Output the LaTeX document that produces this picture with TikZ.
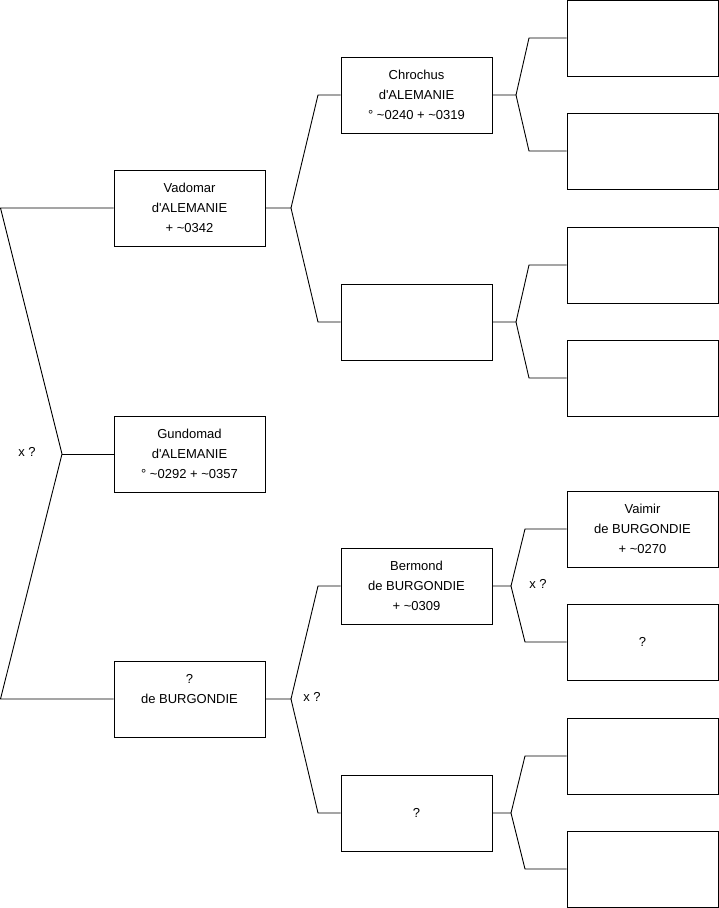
\documentclass[tikz,border=0pt]{standalone}
\usepackage{fontspec}
\setmainfont{Liberation Sans}
\newcommand{\ptext}[1]{\raisebox{1pt}{\renewcommand{\arraystretch}{1}\begin{tabular}{@{}c@{}}#1\end{tabular}}}
\newcommand{\apos}{\textquotesingle}
\begin{document}
\begin{tikzpicture}[x=1pt,y=-1pt,
  person/.style={draw=black, line width=0.9pt, fill=white, minimum width=151pt, minimum height=76pt,
    inner sep=0pt, font=\fontsize{13}{20}\selectfont},
  link/.style={draw=black, line width=0.9pt},
  marriage/.style={font=\fontsize{13}{20}\selectfont, inner sep=0pt}]
\useasboundingbox (0,0) rectangle (719,908);
% column 1
\node[person] (vad) at (189.5,208) {\ptext{Vadomar\\d\apos ALEMANIE\\+ \textasciitilde0342}};
\node[person] (gun) at (189.5,454) {\ptext{Gundomad\\d\apos ALEMANIE\\° \textasciitilde0292 + \textasciitilde0357}};
\node[person] (bur) at (189.5,699) {\ptext{?\\de BURGONDIE\\\mbox{}}};
% column 2
\node[person] (chr) at (416.5,95) {\ptext{Chrochus\\d\apos ALEMANIE\\° \textasciitilde0240 + \textasciitilde0319}};
\node[person] (e2) at (416.5,322) {};
\node[person] (ber) at (416.5,586) {\ptext{Bermond\\de BURGONDIE\\+ \textasciitilde0309}};
\node[person] (q2) at (416.5,813) {\ptext{?}};
% column 3
\node[person] (a1) at (642.5,38) {};
\node[person] (a2) at (642.5,151) {};
\node[person] (a3) at (642.5,265) {};
\node[person] (a4) at (642.5,378) {};
\node[person] (vai) at (642.5,529) {\ptext{Vaimir\\de BURGONDIE\\+ \textasciitilde0270}};
\node[person] (q3) at (642.5,642) {\ptext{?}};
\node[person] (a7) at (642.5,756) {};
\node[person] (a8) at (642.5,869) {};
% fork coordinates
\coordinate (r1) at (0.5,208);
\coordinate (r2) at (62,454);
\coordinate (r3) at (0.5,699);
\coordinate (v0) at (291,208);
\coordinate (v1) at (318,95);
\coordinate (v2) at (318,322);
\coordinate (b0) at (291,699);
\coordinate (b1) at (318,586);
\coordinate (b2) at (318,813);
\coordinate (c0) at (516,95);
\coordinate (c1) at (529,38);
\coordinate (c2) at (529,151);
\coordinate (e0) at (516,322);
\coordinate (e1) at (529,265);
\coordinate (e2b) at (529,378);
\coordinate (m0) at (511,586);
\coordinate (m1) at (525,529);
\coordinate (m2) at (525,642);
\coordinate (q0) at (511,813);
\coordinate (q1) at (525,756);
\coordinate (q2b) at (525,869);
% connectors
\draw[link] (vad.west) -- (r1) -- (r2) -- (r3) -- (bur.west);
\draw[link] (r2) -- (gun.west);
\draw[link] (vad.east) -- (v0) -- (v1) -- (chr.west);
\draw[link] (v0) -- (v2) -- (e2.west);
\draw[link] (bur.east) -- (b0) -- (b1) -- (ber.west);
\draw[link] (b0) -- (b2) -- (q2.west);
\draw[link] (chr.east) -- (c0) -- (c1) -- (a1.west);
\draw[link] (c0) -- (c2) -- (a2.west);
\draw[link] (e2.east) -- (e0) -- (e1) -- (a3.west);
\draw[link] (e0) -- (e2b) -- (a4.west);
\draw[link] (ber.east) -- (m0) -- (m1) -- (vai.west);
\draw[link] (m0) -- (m2) -- (q3.west);
\draw[link] (q2.east) -- (q0) -- (q1) -- (a7.west);
\draw[link] (q0) -- (q2b) -- (a8.west);
% marriage labels
\node[marriage] (x1) at (27,452) {x ?};
\node[marriage] (x2) at (312,697) {x ?};
\node[marriage] (x3) at (538,584) {x ?};
\end{tikzpicture}
\end{document}
